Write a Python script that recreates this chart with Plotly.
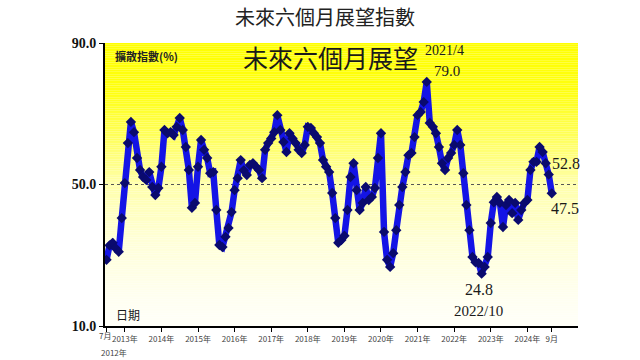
import plotly.graph_objects as go

# Monthly values from 2012/7 to 2024/9
values = [
    28.7, 32.8, 33.5, 32.0, 31.0, 40.5, 50.4, 61.7, 67.7, 64.8,
    57.5, 54.1, 52.1, 51.3, 53.5, 49.3, 47.0, 49.0, 55.0, 65.4,
    64.5, 64.8, 64.0, 66.3, 68.8, 65.4, 60.6, 54.1, 43.4, 44.8,
    55.0, 62.6, 59.8, 57.5, 53.2, 53.5, 42.8, 32.9, 32.3, 35.2,
    37.7, 42.2, 48.4, 51.8, 56.9, 54.0, 52.7, 55.5, 56.0, 55.0,
    54.1, 51.8, 59.8, 61.7, 63.0, 64.8, 69.6, 65.4, 62.0, 59.2,
    64.5, 63.0, 61.7, 59.8, 58.9, 61.2, 66.3, 66.0, 64.5, 63.4,
    61.7, 56.9, 55.0, 53.5, 47.6, 40.5, 33.5, 34.3, 35.5, 42.8,
    52.1, 56.0, 48.4, 42.8, 44.8, 49.3, 45.6, 46.5, 49.0, 57.5,
    64.5, 36.6, 28.7, 26.7, 30.6, 37.1, 44.2, 49.3, 53.5, 58.3,
    58.9, 63.4, 69.6, 70.5, 73.3, 79.0, 67.4, 66.3, 64.5, 60.6,
    56.0, 54.1, 57.5, 58.9, 61.2, 65.4, 61.2, 53.2, 44.2, 37.1,
    29.5, 28.0, 27.8, 24.8, 26.7, 29.5, 39.1, 45.0, 46.5, 44.8,
    38.0, 44.2, 45.6, 41.9, 44.8, 40.0, 42.8, 44.8, 45.6, 54.1,
    56.4, 56.4, 60.6, 59.2, 56.0, 52.8, 47.5,
]
months = list(range(len(values)))

tick_pos = [0, 6, 18, 30, 42, 54, 66, 78, 90, 102, 114, 126, 138, 146]
tick_text = ["", "2013年", "2014年", "2015年", "2016年", "2017年", "2018年",
             "2019年", "2020年", "2021年", "2022年", "2023年", "2024年", "9月"]
y_ticks = [10, 50, 90]
y_tick_text = ["<b>10.0</b>", "<b>50.0</b>", "<b>90.0</b>"]

fig = go.Figure()

# gradient background bands (yellow at top fading to near white)
stops = [(0.0, 0), (0.17, 15), (0.34, 95), (0.5, 170), (0.7, 215), (0.9, 240), (1.0, 248)]


def blue_at(f):
    for (f0, b0), (f1, b1) in zip(stops[:-1], stops[1:]):
        if f0 <= f <= f1:
            return b0 + (b1 - b0) * (f - f0) / (f1 - f0)
    return stops[-1][1]


shapes = []
n_bands = 160
for k in range(n_bands):
    y0 = 10 + 80 * k / n_bands
    y1 = 10 + 80 * (k + 1) / n_bands
    frac = (90 - (y0 + y1) / 2) / 80.0
    b = int(round(blue_at(frac)))
    shapes.append(dict(type="rect", xref="paper", yref="y", x0=0, x1=1, y0=y0, y1=y1,
                       fillcolor=f"rgb(255,255,{b})", line=dict(width=0), layer="below"))
shapes.append(dict(type="line", xref="paper", yref="y", x0=0, x1=1, y0=50, y1=50,
                   line=dict(color="#555555", width=1, dash="dot"), layer="below"))

fig.add_trace(go.Scatter(
    x=months, y=values, mode="lines+markers",
    line=dict(color="#1414E6", width=6.5),
    marker=dict(symbol="diamond", size=8, color="#0A0A6E"),
    hoverinfo="skip", showlegend=False,
))

serif = "Liberation Serif"
cjk = "Noto Sans CJK TC"
annotations = [
    dict(text="未來六個月展望指數", xref="paper", yref="paper", x=0.465, y=1.092,
         xanchor="center", yanchor="middle",
         showarrow=False, font=dict(family=cjk, size=20, color="#222222")),
    dict(text="<b>擴散指數(%)</b>", xref="x", yref="y", x=2.0, y=86.2,
         xanchor="left", yanchor="middle",
         showarrow=False, font=dict(family=cjk, size=11, color="#222222")),
    dict(text="未來六個月展望", xref="x", yref="y", x=44.0, y=86.0,
         xanchor="left", yanchor="middle",
         showarrow=False, font=dict(family=cjk, size=25, color="#1a1a1a")),
    dict(text="2021/4", xref="x", yref="y", x=110.8, y=88.0, showarrow=False,
         yanchor="middle", font=dict(family=serif, size=14, color="#1a1a1a")),
    dict(text="79.0", xref="x", yref="y", x=111.8, y=82.1, showarrow=False,
         yanchor="middle", font=dict(family=serif, size=15, color="#1a1a1a")),
    dict(text="52.8", xref="x", yref="y", x=150.5, y=55.8, showarrow=False,
         yanchor="middle", font=dict(family=serif, size=16, color="#1a1a1a")),
    dict(text="47.5", xref="x", yref="y", x=150.2, y=43.1, showarrow=False,
         yanchor="middle", font=dict(family=serif, size=16, color="#1a1a1a")),
    dict(text="24.8", xref="x", yref="y", x=122.0, y=20.2, showarrow=False,
         yanchor="middle", font=dict(family=serif, size=16, color="#1a1a1a")),
    dict(text="2022/10", xref="x", yref="y", x=122.0, y=14.2, showarrow=False,
         yanchor="middle", font=dict(family=serif, size=15, color="#1a1a1a")),
    dict(text="日期", xref="x", yref="y", x=7.2, y=13.3, showarrow=False,
         yanchor="middle", font=dict(family=cjk, size=12, color="#1a1a1a")),
    dict(text="7月", xref="x", yref="paper", x=2.0, y=-0.035, showarrow=False,
         xanchor="right", yanchor="middle",
         font=dict(family=cjk, size=8, color="#444444")),
    dict(text="2012年", xref="x", yref="paper", x=2.6, y=-0.092, showarrow=False,
         xanchor="center", yanchor="middle",
         font=dict(family=cjk, size=8, color="#444444")),
]

fig.update_layout(
    width=640, height=360,
    margin=dict(l=105, r=62, t=43, b=34),
    paper_bgcolor="white", plot_bgcolor="white",
    shapes=shapes, annotations=annotations,
    xaxis=dict(range=[-0.5, 154.6], tickvals=tick_pos, ticktext=tick_text,
               showgrid=False, zeroline=False, showline=True, linecolor="black", linewidth=2,
               ticks="outside", ticklen=4, tickcolor="black",
               tickfont=dict(family=cjk, size=8, color="#444444"), tickangle=0),
    yaxis=dict(range=[10, 90], tickvals=y_ticks, ticktext=y_tick_text,
               showgrid=False, zeroline=False, showline=True, linecolor="black", linewidth=2,
               ticks="outside", ticklen=4, tickcolor="black",
               tickfont=dict(family=serif, size=14, color="#111111")),
)

fig.write_html("out.html",
               config={"displayModeBar": False, "staticPlot": True},
               post_script="document.body.style.margin='0';document.body.style.overflow='hidden';")
